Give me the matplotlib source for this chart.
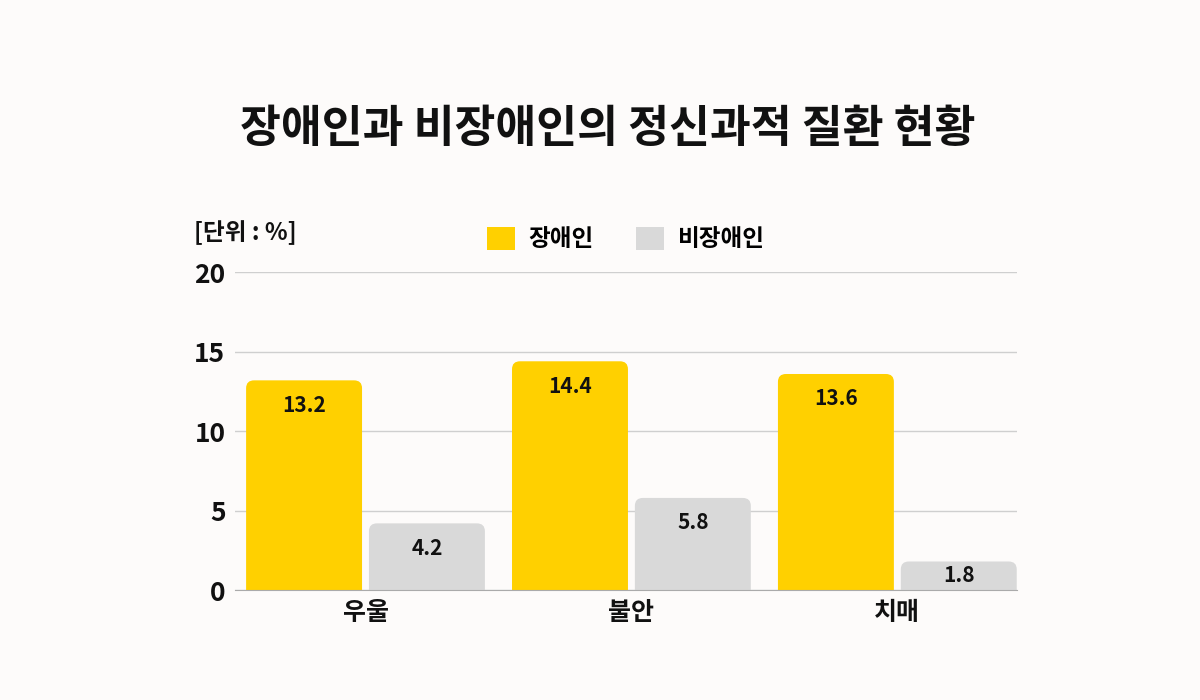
import numpy as np
import matplotlib
matplotlib.use('Agg')
import matplotlib.pyplot as plt
from matplotlib.patches import FancyBboxPatch, Patch

plt.rcParams['font.family'] = ['Noto Sans CJK KR', 'DejaVu Sans']

## data
categories = ['우울', '불안', '치매']
series_names = ['장애인', '비장애인']
disabled = [13.2, 14.4, 13.6]
non_disabled = [4.2, 5.8, 1.8]
yticks = [0, 5, 10, 15, 20]

bg = '#fdfbfa'
colors = ['#ffd000', '#d9d9d9']

fig = plt.figure(figsize=(12, 7), dpi=100, facecolor=bg)
ax = fig.add_axes([0.196, 0.157, 0.6515, 0.454], facecolor=bg)

x = np.arange(len(categories))
w = 0.436
gap = 0.026
offsets = [-(w + gap) / 2, (w + gap) / 2]

ax.set_xlim(-0.49, 2.45)
ax.set_ylim(0, 20)

# rounded-top bars
for vals, off, col in zip([disabled, non_disabled], offsets, colors):
    bars = ax.bar(x + off, vals, w, color=col, alpha=0)
    for b, v in zip(bars, vals):
        p = FancyBboxPatch((b.get_x(), -2), w, v + 2,
                           boxstyle='round,pad=0,rounding_size=0.03',
                           mutation_aspect=16.5, fc=col, ec='none', zorder=3)
        ax.add_patch(p)
        if v < 3:
            # short bar: label sits in the middle
            ax.text(b.get_x() + w / 2, v / 2, f'{v}', ha='center', va='center',
                    fontsize=15, fontweight='bold', color='#111111', zorder=4)
        else:
            ax.annotate(f'{v}', (b.get_x() + w / 2, v), xytext=(0, -18),
                        textcoords='offset points', ha='center', va='center',
                        fontsize=15, fontweight='bold', color='#111111', zorder=4)

## axes style
ax.set_yticks(yticks)
ax.set_yticklabels([str(t) for t in yticks], fontsize=19, fontweight='bold')
ax.set_xticks(x)
ax.set_xticklabels(categories, fontsize=18, fontweight='bold')
ax.tick_params(axis='both', length=0, colors='#111111')
ax.tick_params(axis='y', pad=7)
ax.tick_params(axis='x', pad=8)
ax.grid(axis='y', color='#cfcfcf', linewidth=1, zorder=0)
ax.set_axisbelow(True)
for s in ['top', 'right', 'left']:
    ax.spines[s].set_visible(False)
ax.spines['bottom'].set_color('#aaaaaa')
ax.spines['bottom'].set_zorder(5)

## legend
handles = [Patch(fc=c, ec='none') for c in colors]
leg = ax.legend(handles, series_names, ncol=2, loc='center',
                bbox_to_anchor=(0.5, 1.105), frameon=False,
                prop={'size': 17, 'weight': 'bold'},
                handlelength=1.15, handleheight=1.15, handletextpad=0.6,
                columnspacing=1.8)

## title + unit
fig.text(0.506, 0.815, '장애인과 비장애인의 정신과적 질환 현황', ha='center',
         va='center', fontsize=32, fontweight='heavy', color='#111111')
fig.text(0.162, 0.668, '[단위 : %]', ha='left', va='center',
         fontsize=17, fontweight='bold', color='#111111')

plt.savefig('out.png', dpi=100, facecolor=bg)
